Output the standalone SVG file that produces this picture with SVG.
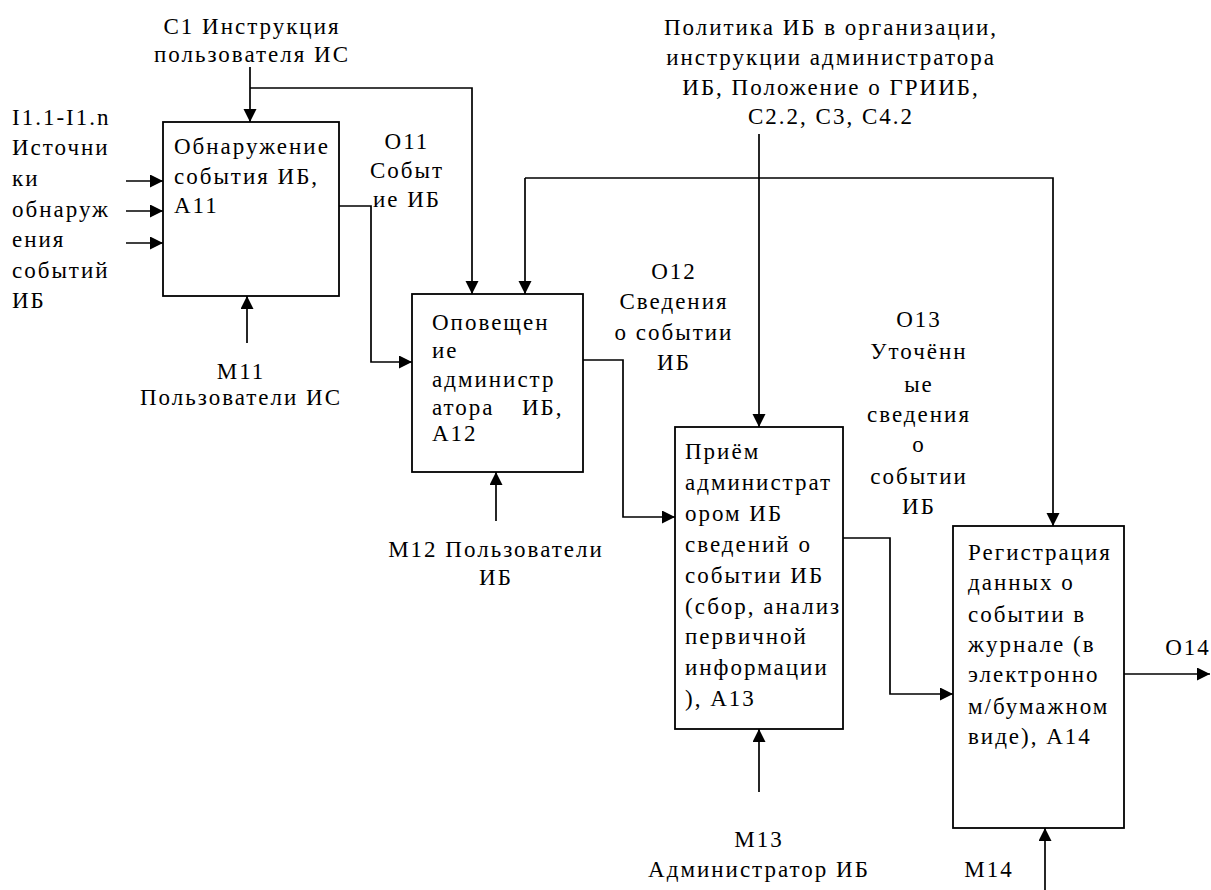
<svg xmlns="http://www.w3.org/2000/svg" width="1211" height="890" viewBox="0 0 1211 890" font-family="'Liberation Serif', 'DejaVu Serif', serif">
<style>
text{font-family:'Liberation Serif','DejaVu Serif',serif;font-size:23px;fill:#000;letter-spacing:2px}
.c{text-anchor:middle}
.box{fill:#fff;stroke:#000;stroke-width:1.8}
.ln{fill:none;stroke:#000;stroke-width:1.7}
</style>
<defs>
<marker id="ah" markerUnits="userSpaceOnUse" markerWidth="14" markerHeight="14" refX="13" refY="6.5" orient="auto">
<path d="M0,0 L13,6.5 L0,13 z" fill="#000"/>
</marker>
</defs>
<rect width="1211" height="890" fill="#fff"/>
<g id="connectors">
<path class="ln" d="M250,67 V122" marker-end="url(#ah)"/>
<path class="ln" d="M250,88 H472 V294" marker-end="url(#ah)"/>
<path class="ln" d="M126,181 H163" marker-end="url(#ah)"/>
<path class="ln" d="M126,211 H163" marker-end="url(#ah)"/>
<path class="ln" d="M126,243 H163" marker-end="url(#ah)"/>
<path class="ln" d="M339,206 H371 V362 H412" marker-end="url(#ah)"/>
<path class="ln" d="M247,343 V296" marker-end="url(#ah)"/>
<path class="ln" d="M525,178 H1053 V526" marker-end="url(#ah)"/>
<path class="ln" d="M525,178 V294" marker-end="url(#ah)"/>
<path class="ln" d="M759,134 V427" marker-end="url(#ah)"/>
<path class="ln" d="M583,360 H623 V517 H675" marker-end="url(#ah)"/>
<path class="ln" d="M496,521 V472" marker-end="url(#ah)"/>
<path class="ln" d="M843,538 H890 V694 H953" marker-end="url(#ah)"/>
<path class="ln" d="M759,792 V729" marker-end="url(#ah)"/>
<path class="ln" d="M1124,674 H1210" marker-end="url(#ah)"/>
<path class="ln" d="M1045,890 V828" marker-end="url(#ah)"/>
</g>
<g id="labels">
<text class="c" x="252" y="34">С1 Инструкция</text>
<text class="c" x="252" y="62">пользователя ИС</text>
<text x="12" y="125">I1.1-I1.n</text>
<text x="12" y="155">Источни</text>
<text x="12" y="186">ки</text>
<text x="12" y="217">обнаруж</text>
<text x="12" y="247">ения</text>
<text x="12" y="278">событий</text>
<text x="12" y="308">ИБ</text>
<text class="c" x="407" y="149">О11</text>
<text class="c" x="407" y="178">Событ</text>
<text class="c" x="407" y="207">ие ИБ</text>
<text class="c" x="241" y="379">М11</text>
<text class="c" x="241" y="405">Пользователи ИС</text>
<text class="c" x="496" y="557">М12 Пользователи</text>
<text class="c" x="496" y="585">ИБ</text>
<text class="c" x="674" y="279">О12</text>
<text class="c" x="674" y="309">Сведения</text>
<text class="c" x="674" y="340">о событии</text>
<text class="c" x="674" y="370">ИБ</text>
<text class="c" x="831" y="35">Политика ИБ в организации,</text>
<text class="c" x="831" y="65">инструкции администратора</text>
<text class="c" x="831" y="95">ИБ, Положение о ГРИИБ,</text>
<text class="c" x="831" y="124">С2.2, С3, С4.2</text>
<text class="c" x="919" y="327">О13</text>
<text class="c" x="919" y="359">Уточённ</text>
<text class="c" x="919" y="392">ые</text>
<text class="c" x="919" y="422">сведения</text>
<text class="c" x="919" y="452">о</text>
<text class="c" x="919" y="484">событии</text>
<text class="c" x="919" y="514">ИБ</text>
<text class="c" x="759" y="847">М13</text>
<text class="c" x="759" y="877">Администратор ИБ</text>
<text class="c" x="1188" y="655">О14</text>
<text class="c" x="989" y="877">М14</text>
</g>
<g id="A11">
<rect class="box" x="163" y="122" width="176" height="174"/>
<text x="174" y="154">Обнаружение</text>
<text x="174" y="184">события ИБ,</text>
<text x="174" y="213">А11</text>
</g>
<g id="A12">
<rect class="box" x="412" y="294" width="171" height="178"/>
<text x="432" y="330">Оповещен</text>
<text x="432" y="358">ие</text>
<text x="432" y="387">администр</text>
<text x="432" y="415">атора</text>
<text x="522" y="415">ИБ,</text>
<text x="432" y="441">А12</text>
</g>
<g id="A13">
<rect class="box" x="675" y="427" width="168" height="302"/>
<text x="685" y="459">Приём</text>
<text x="685" y="490">администрат</text>
<text x="685" y="521">ором ИБ</text>
<text x="685" y="552">сведений о</text>
<text x="685" y="583">событии ИБ</text>
<text x="685" y="614">(сбор, анализ</text>
<text x="685" y="644">первичной</text>
<text x="685" y="675">информации</text>
<text x="685" y="706">), А13</text>
</g>
<g id="A14">
<rect class="box" x="953" y="526" width="171" height="302"/>
<text x="968" y="560">Регистрация</text>
<text x="968" y="590">данных о</text>
<text x="968" y="622">событии в</text>
<text x="968" y="652">журнале (в</text>
<text x="968" y="682">электронно</text>
<text x="968" y="714">м/бумажном</text>
<text x="968" y="744">виде), А14</text>
</g>
</svg>
